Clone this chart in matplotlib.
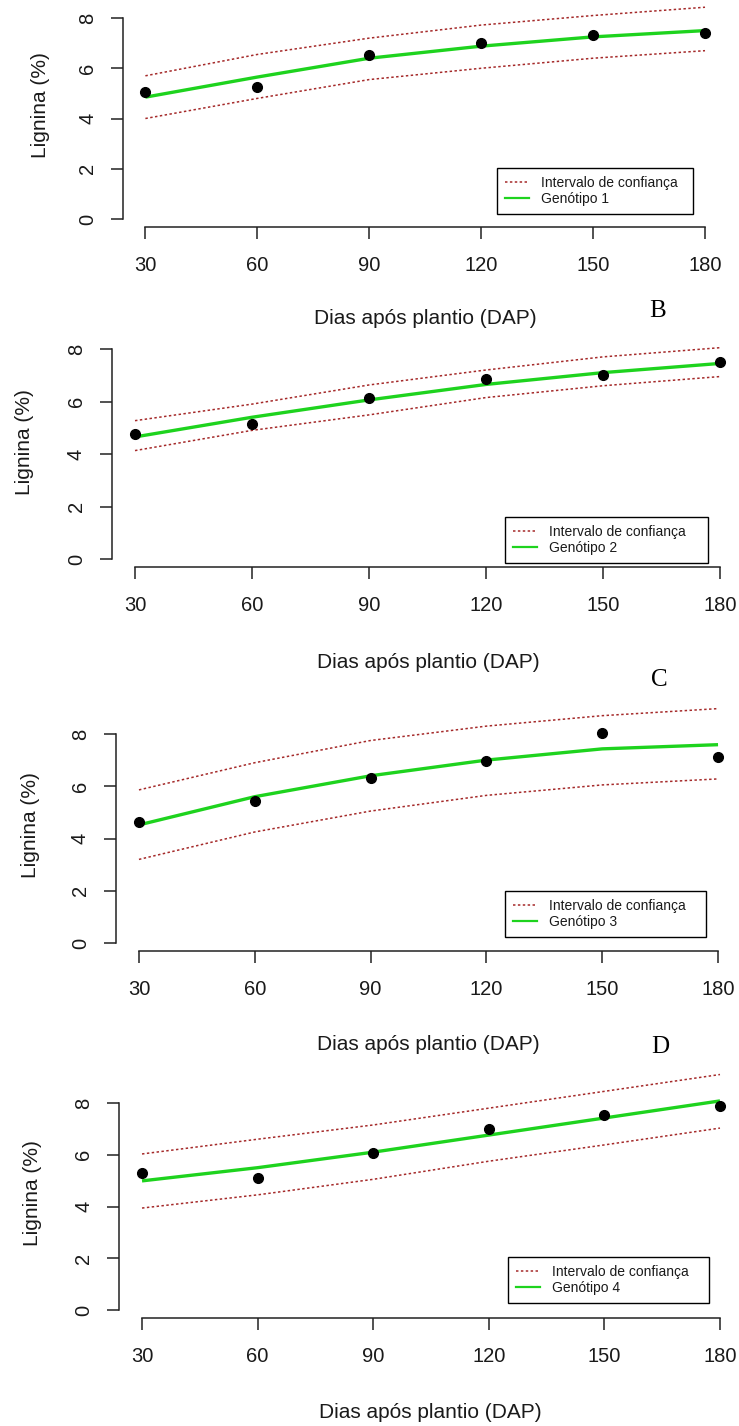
import matplotlib
matplotlib.use("Agg")
import matplotlib.pyplot as plt
from matplotlib.lines import Line2D

plt.rcParams['font.family'] = ['Liberation Sans', 'DejaVu Sans']

W, H = 739, 1426

dap = [30, 60, 90, 120, 150, 180]
x_ticks = [30, 60, 90, 120, 150, 180]
y_ticks = [0, 2, 4, 6, 8]

obs_g1 = [5.05, 5.25, 6.53, 7.00, 7.32, 7.42]
fit_g1 = [4.85, 5.65, 6.40, 6.88, 7.25, 7.50]
up_g1 = [5.70, 6.55, 7.20, 7.72, 8.10, 8.43]
lo_g1 = [4.00, 4.80, 5.55, 6.00, 6.40, 6.70]

obs_g2 = [4.76, 5.14, 6.13, 6.85, 7.00, 7.50]
fit_g2 = [4.65, 5.40, 6.06, 6.65, 7.10, 7.45]
up_g2 = [5.27, 5.90, 6.63, 7.20, 7.70, 8.05]
lo_g2 = [4.13, 4.90, 5.49, 6.15, 6.60, 6.95]

obs_g3 = [4.64, 5.45, 6.30, 6.97, 8.04, 7.13]
fit_g3 = [4.52, 5.60, 6.40, 7.00, 7.43, 7.59]
up_g3 = [5.86, 6.90, 7.75, 8.30, 8.70, 8.97]
lo_g3 = [3.20, 4.25, 5.05, 5.65, 6.05, 6.28]

obs_g4 = [5.29, 5.10, 6.05, 6.99, 7.53, 7.88]
fit_g4 = [4.99, 5.50, 6.10, 6.76, 7.42, 8.08]
up_g4 = [6.03, 6.60, 7.15, 7.80, 8.45, 9.10]
lo_g4 = [3.94, 4.45, 5.05, 5.75, 6.38, 7.03]

legend_ci = "Intervalo de confiança"
geno_labels = ["Genótipo 1", "Genótipo 2", "Genótipo 3", "Genótipo 4"]
xlabel = "Dias após plantio (DAP)"
ylabel = "Lignina (%)"
panel_letters = ["B", "C", "D"]

panels = [
    dict(obs=obs_g1, fit=fit_g1, up=up_g1, lo=lo_g1,
         box=(123, 10, 727.4, 227), leg=(497, 168, 693, 217),
         ylab=(40, 105), xlab=(425, 318), letter=(658, 311)),
    dict(obs=obs_g2, fit=fit_g2, up=up_g2, lo=lo_g2,
         box=(111.6, 340.6, 743.4, 567.4), leg=(505, 517, 708, 557),
         ylab=(25, 442), xlab=(428, 662), letter=(659, 680)),
    dict(obs=obs_g3, fit=fit_g3, up=up_g3, lo=lo_g3,
         box=(115.8, 725.6, 741.2, 951.4), leg=(505, 891, 706, 942),
         ylab=(30, 825), xlab=(428, 1045), letter=(660, 1047)),
    dict(obs=obs_g4, fit=fit_g4, up=up_g4, lo=lo_g4,
         box=(118.9, 1094.7, 743.1, 1318.3), leg=(508, 1257, 709, 1309),
         ylab=(32, 1193), xlab=(430, 1413), letter=None),
]

CI_COLOR = '#a52a2a'
FIT_COLOR = '#1ed31e'
TXT = '#1a1a1a'

fig = plt.figure(figsize=(W / 100, H / 100), dpi=100)


def fx(x):
    return x / W


def fy(y):
    return 1 - y / H


for i, p in enumerate(panels):
    l, t, r, b = p['box']
    ax = fig.add_axes([fx(l), fy(b), fx(r) - fx(l), fy(t) - fy(b)])
    ax.set_xlim(24, 186)
    ax.set_ylim(-0.32, 8.32)
    ax.patch.set_alpha(0)
    for s in ['top', 'right']:
        ax.spines[s].set_visible(False)
    ax.spines['left'].set_bounds(0, 8)
    ax.spines['bottom'].set_bounds(30, 180)
    for s in ['left', 'bottom']:
        ax.spines[s].set_color('#222222')
        ax.spines[s].set_linewidth(1.1)
    ax.set_xticks(x_ticks)
    ax.set_yticks(y_ticks)
    ax.tick_params(axis='both', length=8.6, width=1.1, color='#222222',
                   labelsize=14.5, labelcolor=TXT)
    ax.tick_params(axis='x', pad=12)
    ax.tick_params(axis='y', pad=10)
    for lab in ax.get_yticklabels():
        lab.set_rotation(90)
        lab.set_va('center')

    ax.plot(dap, p['up'], color=CI_COLOR, lw=1.1, ls=(0, (1.6, 1.6)), clip_on=False)
    ax.plot(dap, p['lo'], color=CI_COLOR, lw=1.1, ls=(0, (1.6, 1.6)), clip_on=False)
    ax.plot(dap, p['fit'], color=FIT_COLOR, lw=2.4, solid_capstyle='butt', clip_on=False)
    ax.plot(dap, p['obs'], 'o', color='black', ms=7, zorder=5, clip_on=False)

    handles = [Line2D([], [], color=CI_COLOR, lw=1.1, ls=(0, (1.6, 1.6))),
               Line2D([], [], color=FIT_COLOR, lw=1.6)]
    lx0, ly0, lx1, ly1 = p['leg']
    leg = fig.legend(handles, [legend_ci, geno_labels[i]],
                     loc='upper left', mode='expand',
                     bbox_to_anchor=(fx(lx0), fy(ly1), fx(lx1) - fx(lx0), fy(ly0) - fy(ly1)),
                     bbox_transform=fig.transFigure, borderaxespad=0,
                     fontsize=10, frameon=True, fancybox=False, framealpha=1,
                     edgecolor='black', handlelength=1.7, handletextpad=0.9,
                     labelspacing=0.12, borderpad=0.6)
    leg.get_frame().set_linewidth(1.0)
    for txt in leg.get_texts():
        txt.set_color(TXT)

    fig.text(fx(p['ylab'][0]), fy(p['ylab'][1]), ylabel, rotation=90,
             ha='center', va='center', fontsize=15, color=TXT)
    fig.text(fx(p['xlab'][0]), fy(p['xlab'][1]), xlabel,
             ha='center', va='center', fontsize=15, color=TXT)
    if i < 3:
        lx, ly = p['letter']
        fig.text(fx(lx), fy(ly), panel_letters[i], ha='center', va='center',
                 fontsize=18, family=['Liberation Serif', 'DejaVu Serif'], color='black')

fig.savefig('out.png', dpi=100, facecolor='white')
